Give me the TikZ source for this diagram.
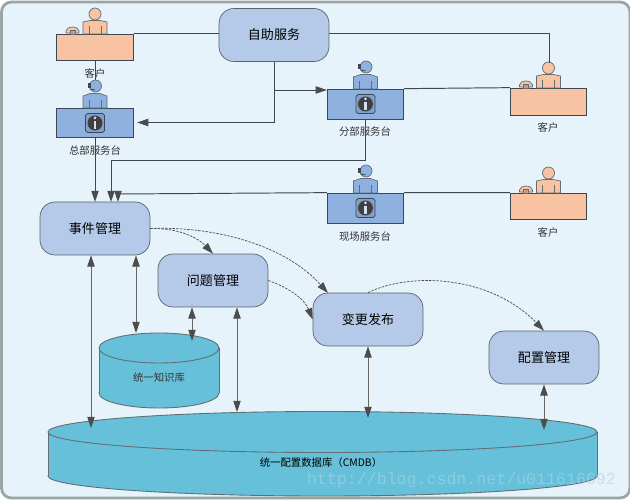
\documentclass[tikz,border=0pt]{standalone}
\usepackage{fontspec}
\setmainfont{Noto Sans CJK SC}
\newfontfamily\wmfont{Liberation Mono}
\usepackage{xcolor}
\usetikzlibrary{arrows.meta}
\definecolor{panelbg}{HTML}{E6F3FA}
\definecolor{panelrim}{HTML}{9AA6A6}
\definecolor{procfill}{HTML}{B4CAE8}
\definecolor{cylfill}{HTML}{66C0D9}
\definecolor{agentfill}{HTML}{8FB1DF}
\definecolor{clientfill}{HTML}{F8C3A2}
\definecolor{wire}{HTML}{3C4850}
\definecolor{wmtext}{HTML}{A6D6E6}
\tikzset{
  procbox/.style={draw=wire!85,fill=procfill,rounded corners=.3cm,minimum width=2.2cm,minimum height=1.06cm,inner sep=0,font=\fontsize{7.4}{9}\selectfont},
  deskbox/.style={draw=wire,minimum width=1.53cm,minimum height=#1,inner sep=0},
  smalltxt/.style={font=\fontsize{5.9}{7}\selectfont,text=black!80,inner sep=0},
  flow/.style={draw=wire,line width=.55pt,-{Triangle[length=6.4pt,width=4.2pt,color=black!70]}},
  both/.style={draw=black!60,line width=.45pt,{Triangle[length=6.4pt,width=4.2pt,color=black!70]}-{Triangle[length=6.4pt,width=4.2pt,color=black!70]}},
  loose/.style={draw=black!70,line width=.4pt,dash pattern=on 1.4pt off .7pt,-{Triangle[length=6.4pt,width=4.2pt,color=black!70]}},
  plain/.style={draw=wire,line width=.55pt},
  figline/.style={draw=wire!80,line width=.4pt}
}
% person behind a desk, (#1,#2) is the middle of the desk top
\newcommand{\clientfig}[2]{
\begin{scope}[shift={(#1,#2)}]
\draw[figline,fill=clientfill] (-12,0)--(-12,-12)--(-5,-13.5)--(5,-13.5)--(12,-12)--(12,0)--cycle;
\draw[figline] (-6,0)--(-6,-8) (6,0)--(6,-8);
\draw[figline,fill=clientfill] (0,-20) circle (6);
\draw[figline,fill=clientfill] (-29,-1)--(-29,-3) .. controls (-28,-8.5) and (-17,-8.5) .. (-16,-3)--(-16,-1)--cycle;
\draw[figline,fill=clientfill!80!black] (-25,0) rectangle (-20,-4);
\end{scope}
}
\newcommand{\agentfig}[3]{
\begin{scope}[shift={(#1,#2)}]
\draw[figline,fill=agentfill] (-12,0)--(-12,-12)--(-5,-14.5)--(5,-14.5)--(12,-12)--(12,0)--cycle;
\draw[figline] (-6,0)--(-6,-8) (6,0)--(6,-8);
\draw[figline,fill=agentfill] (.5,-22) circle (6);
\fill[wire] (-7.5,-25) rectangle (-4.5,-20);
\draw[wire,line width=.5pt] (-5,-19)--(0,-18);
% info sign
\draw[wire,fill=agentfill!90!black,rounded corners=1pt] (-9.5,#3-9.5) rectangle (9.5,#3+9.5);
\fill[black!75] (0,#3) circle (7.5);
\fill[agentfill!40] (-1.3,#3-2) rectangle (1.3,#3+6);
\fill[agentfill!40] (0,#3-5) circle (1.5);
\end{scope}
}
\begin{document}
\begin{tikzpicture}[x=.02cm,y=-.02cm]
\useasboundingbox (0,0) rectangle (630,500);
\fill[white] (0,0) rectangle (630,500);
\draw[draw=panelrim,line width=1.6pt,fill=panelbg,rounded corners=.2cm] (1.5,2) rectangle (630,498);

% desks
\node[deskbox=.52cm,fill=clientfill] (custA) at (95,47) {};
\node[deskbox=.58cm,fill=agentfill] (hqdesk) at (95,122.5) {};
\node[deskbox=.6cm,fill=agentfill] (branch) at (365.5,104) {};
\node[deskbox=.54cm,fill=clientfill] (custB) at (548.5,101.5) {};
\node[deskbox=.6cm,fill=agentfill] (site) at (365.5,208) {};
\node[deskbox=.52cm,fill=clientfill] (custC) at (548.5,206) {};

\foreach \px/\py in {95/34,548.5/88,548.5/193}{\clientfig{\px}{\py}}
\agentfig{95}{108}{15}
\agentfig{365.5}{89}{15}
\agentfig{365.5}{193}{15}

% labels
\node[smalltxt] (labA) at (95,74) {客户};
\node[smalltxt] (labhq) at (95,151) {总部服务台};
\node[smalltxt] (labbr) at (365,132) {分部服务台};
\node[smalltxt] (labB) at (548,128) {客户};
\node[smalltxt] (labsi) at (365,237) {现场服务台};
\node[smalltxt] (labC) at (548,233) {客户};

% boxes
\node[procbox] (self) at (274,35) {自助服务};
\node[procbox] (event) at (95,228.5) {事件管理};
\node[procbox] (prob) at (213,280.5) {问题管理};
\node[procbox] (chg) at (368,319.5) {变更发布};
\node[procbox] (conf) at (544,357.5) {配置管理};

% knowledge base
\draw[wire!80,line width=.5pt,fill=cylfill] (159,393) ellipse [x radius=60,y radius=15];
\fill[cylfill] (99,348) rectangle (219,393);
\draw[wire!80,line width=.5pt] (99,348)--(99,393) (219,348)--(219,393);
\draw[wire!80,line width=.5pt,fill=cylfill] (159,348) ellipse [x radius=60,y radius=15];
\node[smalltxt] (kb) at (159,378) {统一知识库};

% cmdb
\draw[wire!80,line width=.5pt,fill=cylfill] (322.5,476) ellipse [x radius=274.5,y radius=20];
\fill[cylfill] (48,432) rectangle (597,476);
\draw[wire!80,line width=.5pt] (48,432)--(48,476) (597,432)--(597,476);
\draw[wire!80,line width=.5pt,fill=cylfill] (322.5,432) ellipse [x radius=274.5,y radius=20.5];
\node[smalltxt,text=black] (cmdb) at (321,463) {统一配置数据库（CMDB）};
\node[inner sep=0,text=wmtext,opacity=.6,font=\wmfont\fontsize{9.45}{11}\selectfont] (wmark) at (461.5,480) {http://blog.csdn.net/u011616692};

% wires at the top
\coordinate (headA) at (95,80);
\coordinate (headB) at (549,63);
\coordinate (selfjoin) at (274,90);
\coordinate (brdrop) at (365.5,160.5);
\coordinate (brturn) at (111,160.5);
\coordinate (siturn) at (118,194);
\coordinate (evtipA) at (95,202);
\coordinate (evtipB) at (111,202);
\coordinate (evtipC) at (118,202);
\draw[plain] (custA.south)--(headA);
\draw[plain] (custA.north east)--(self.west |- custA.north east);
\draw[plain] (self.east |- custA.north east)-|(headB);
\draw[flow,shorten >=2pt] (self.south)|-(hqdesk.east);
\draw[flow] (selfjoin)--(branch.west |- selfjoin);
\draw[plain] (branch.north east)--(custB.north west);
\draw[flow] (hqdesk.south)--(evtipA);
\draw[plain] (branch.south)--(brdrop)--(brturn);
\draw[flow] (brturn)--(evtipB);
\draw[plain] (custC.north west)--(site.north east);
\draw[flow] (site.north west)--(siturn)--(evtipC);

% dashed flows
\draw[loose] (event.east) .. controls (180,228) and (198,238) .. (prob.north);
\draw[loose] (event.east) .. controls (215,226) and (285,245) .. (328,293);
\draw[loose] (prob.east) .. controls (290,288) and (305,300) .. (chg.west);
\draw[loose] (chg.north) .. controls (410,272) and (490,275) .. (conf.north);

% two way arrows
\coordinate (tipcmA) at (91,428);
\coordinate (tipkbA) at (136,333);
\coordinate (tipkbB) at (192,341);
\coordinate (tipcmB) at (237,412);
\coordinate (tipcmC) at (368,418);
\coordinate (tipcmD) at (544,430);
\draw[both] (event.south -| tipcmA)--(tipcmA);
\draw[both] (event.south -| tipkbA)--(tipkbA);
\draw[both] (prob.south -| tipkbB)--(tipkbB);
\draw[both] (prob.south -| tipcmB)--(tipcmB);
\draw[both] (chg.south)--(tipcmC);
\draw[both] (conf.south)--(tipcmD);
\end{tikzpicture}
\end{document}
